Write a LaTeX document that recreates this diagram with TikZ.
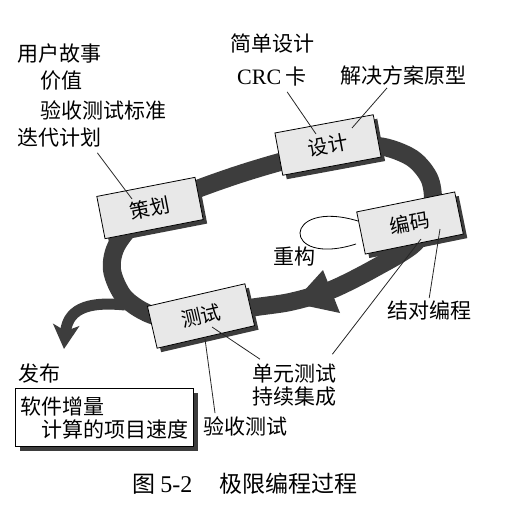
\documentclass[tikz,border=0pt]{standalone}
\usepackage{fontspec}
\usepackage{tikz}
\setmainfont{Liberation Serif}
\newfontfamily\cjk{Noto Sans CJK SC}
\usetikzlibrary{arrows}
\usetikzlibrary{arrows.meta}
\usetikzlibrary{decorations.markings}
\usetikzlibrary{shadows}
\definecolor{mdark}{rgb}{0.24, 0.24, 0.24}
\definecolor{mface}{rgb}{0.91, 0.91, 0.91}
\tikzset{->/.style = {decoration={markings,
                                  mark=at position 1 with {\arrow[scale=1.3]{latex'}}},
                      postaction={decorate}}}
\tikzset{note/.style = {font=\cjk\fontsize{21}{23}\selectfont, inner sep=0pt, anchor=west}}
\tikzset{stage/.style = {draw=black, line width=0.8pt, fill=mface,
                         font=\cjk\fontsize{20}{22}\selectfont,
                         minimum width=100pt, minimum height=43pt,
                         drop shadow={shadow xshift=4pt, shadow yshift=-4pt, fill=mdark, opacity=1}}}
\tikzset{relbox/.style = {draw=black, line width=1pt, fill=white, align=left,
                          font=\cjk\fontsize{21}{23}\selectfont, inner xsep=5pt, inner ysep=8pt,
                          drop shadow={shadow xshift=4pt, shadow yshift=-4pt, fill=mdark, opacity=1}}}
\tikzset{tick/.style = {line width=0.8pt, black!85}}

\begin{document}
\begin{tikzpicture}[x=1pt, y=-1pt]
      \useasboundingbox (0, 0) rectangle (507, 513);

      \draw [mdark, line width=18pt] plot [smooth cycle] coordinates {
            (150, 208) (200, 188) (240, 174) (280, 162) (328, 150) (378, 146)
            (412, 158) (430, 180) (432, 210) (415, 243) (375, 268) (331, 290)
            (290, 302) (250, 308) (201, 318) (155, 316) (125, 298) (112, 270) (118, 243)};
      \fill [mdark] (323, 270) -- (340, 313) -- (293, 303) -- cycle;
      \draw [mdark, line width=11pt, -{Stealth[length=24pt, width=26pt, inset=6pt]}]
            (125, 305) .. controls (95, 302) and (68, 305) .. (64, 349);

      \node [stage, rotate=11] (plan) at (150, 208) {策划};
      \node [stage, rotate=10.5] (design) at (328, 145) {设计};
      \node [stage, rotate=11.5] (code) at (410, 223) {编码};
      \node [stage, rotate=13] (test) at (201, 316) {测试};

      \coordinate (refac start) at (358, 221);
      \coordinate (refac end) at (356, 244);
      \draw [->, line width=0.8pt] (refac start) .. controls (282, 198) and (280, 268) .. (refac end);

      \node [note] (story) at (17, 54) {用户故事};
      \node [note] (value) at (40, 81) {价值};
      \node [note] (criteria) at (40, 110) {验收测试标准};
      \node [note] (iterplan) at (17, 138) {迭代计划};
      \node [note] (simple) at (230, 44) {简单设计};
      \node [note] (crc) at (237, 77) {{\rmfamily\fontsize{22}{24}\selectfont CRC} 卡};
      \node [note] (proto) at (340, 75) {解决方案原型};
      \node [note] (refactor) at (273, 257) {重构};
      \node [note] (pair) at (387, 310) {结对编程};
      \node [note] (unit) at (252, 374) {单元测试};
      \node [note] (integ) at (252, 397) {持续集成};
      \node [note] (accept) at (203, 426) {验收测试};
      \node [note] (publish) at (18, 374) {发布};
      \node [relbox, anchor=north west] (increment) at (15, 388) {软件增量\\\hspace*{1em}计算的项目速度};
      \node [font=\cjk\fontsize{23}{25}\selectfont, inner sep=0pt] (caption) at (245, 484)
            {图 {\rmfamily\fontsize{24}{25}\selectfont 5-2}\hspace{1.2em}极限编程过程};

      \coordinate (plan in) at (132, 199);
      \coordinate (design in a) at (316, 134);
      \coordinate (design in b) at (352, 128);
      \coordinate (code in a) at (440, 229);
      \coordinate (code in b) at (421, 239);
      \coordinate (test in a) at (212, 327);
      \coordinate (test in b) at (205, 339);

      \draw [tick] ([xshift=-4pt, yshift=-5pt]iterplan.south east) -- (plan in);
      \draw [tick] ([xshift=-20pt, yshift=-5pt]crc.south east) -- (design in a);
      \draw [tick] ([xshift=47pt, yshift=-3pt]proto.south west) -- (design in b);
      \draw [tick] ([yshift=2pt]pair.north) -- (code in a);
      \draw [tick] ([xshift=-4pt, yshift=10pt]unit.north east) -- (code in b);
      \draw [tick] ([xshift=8pt, yshift=5pt]unit.north west) -- (test in a);
      \draw [tick] ([xshift=12pt, yshift=3pt]accept.north west) -- (test in b);
\end{tikzpicture}
\end{document}
